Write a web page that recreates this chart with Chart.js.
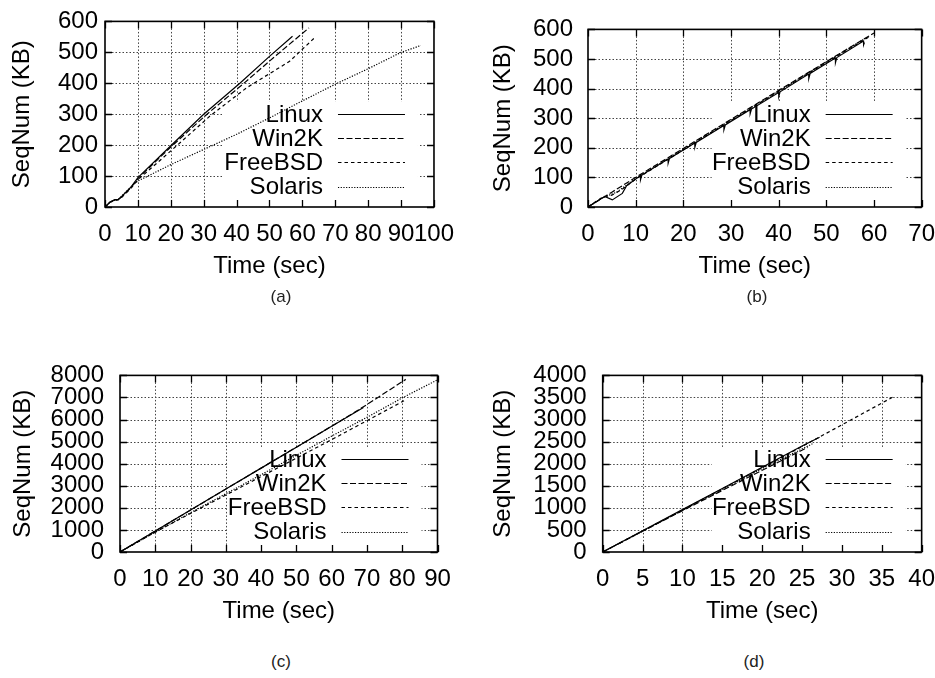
<!DOCTYPE html>
<html>
<head>
<meta charset="utf-8">
<script src="https://cdn.jsdelivr.net/npm/chart.js@4.4.1/dist/chart.umd.min.js"></script>
<style>
  body { margin: 0; background: #fff; width: 935px; height: 678px; overflow: hidden; position: relative; }
  canvas { position: absolute; }
  .cap { position: absolute; width: 60px; margin-left: -30px; text-align: center;
         font: 17px "Liberation Sans", Arial, sans-serif; color: #222; }
</style>
</head>
<body>
<canvas id="pa" width="467" height="290" style="left:0;top:0"></canvas>
<canvas id="pb" width="480" height="290" style="left:468px;top:0"></canvas>
<canvas id="pc" width="467" height="290" style="left:0;top:345px"></canvas>
<canvas id="pd" width="480" height="290" style="left:468px;top:345px"></canvas>
<div class="cap" style="left:281px;top:287px">(a)</div>
<div class="cap" style="left:757px;top:287px">(b)</div>
<div class="cap" style="left:281px;top:652px">(c)</div>
<div class="cap" style="left:754px;top:652px">(d)</div>
<script>
// series names, shared by all four panels
const osNames = ['Linux', 'Win2K', 'FreeBSD', 'Solaris'];

// (a) [time sec, seqnum KB]
const aLinux = [[0,0],[1.5,16],[3,24],[4,24],[5,33],[8,66],[10,95],[20,198],[30,300],[41,400],[50,487],[57,552]];
const aWin2K = [[0,0],[1.5,15],[3,23],[4,24],[5,32],[8,64],[10,92],[20,194],[31,300],[42,398],[52,490],[62,579]];
const aFreeBSD = [[0,0],[1.5,15],[3,22],[4,23],[5,30],[8,62],[10,88],[22,200],[32,295],[43,385],[50,431],[56,470],[64,550]];
const aSolaris = [[0,0],[1.5,15],[3,22],[4,24],[6,45],[8,66],[10,84],[20,137],[30,186],[40,235],[50,288],[60,343],[70,397],[80,447],[90,500],[96,522]];

// (b)
const bLinux = [[0,0],[3,30],[3.5,36],[5.1,24],[7.2,46],[8.1,72],[11,106],[11.02,92],[11.3,108],[16.8,162],[16.82,148],
  [17.1,164],[22.4,216],[22.42,202],[22.7,218],[28.5,275],[28.52,261],[28.8,277],[34,329],[34.02,315],[34.3,331],
  [40,387],[40.02,373],[40.3,389],[46.3,449],[46.32,434],[46.6,451],[51.9,503],[51.92,488],[52.2,505],[57.8,561],[57.82,548],[58,556]];
const bWin2K = [[0,0],[5,50],[10,100],[20,198],[30,296],[40,394],[50,491],[60,588]];
const bFreeBSD = [[0,0],[3,33],[5,40],[7,58],[10,94],[20,193],[30,292],[40,390],[50,488],[59,575]];
const bSolaris = [[0,0],[3,31],[6,50],[10,96],[20,195],[30,294],[40,392],[50,490],[58.5,573]];

// (c)
const cLinux = [[0,0],[10,950],[20,1900],[30,2850],[40,3800],[50,4750],[60,5700],[69,6550]];
const cWin2K = [[0,0],[10,950],[20,1900],[30,2850],[40,3800],[50,4750],[60,5700],[65,6180],[70,6680],[81,7820]];
const cFreeBSD = [[0,0],[10,900],[20,1750],[30,2580],[40,3420],[50,4250],[60,5090],[70,5950],[80.5,6850]];
const cSolaris = [[0,0],[10,900],[20,1780],[30,2640],[40,3500],[50,4380],[60,5250],[70,6100],[80,6980],[90,7800]];

// (d)
const dLinux = [[0,0],[5,480],[10,960],[15,1440],[20,1920],[25,2400],[27.2,2600]];
const dWin2K = [[0,0],[5,470],[10,935],[15,1395],[20,1850],[25.7,2370]];
const dFreeBSD = [[0,0],[5,475],[10,950],[15,1430],[20,1910],[25,2390],[30,2880],[36.6,3530]];
const dSolaris = [[0,0],[5,472],[10,945],[15,1415],[20,1890],[26.3,2450]];

// axis ranges / tick steps
const xMax = [100, 70, 90, 40];
const xStep = [10, 10, 10, 5];
const yMax = [600, 600, 8000, 4000];
const yStep = [100, 100, 1000, 500];

const dashes = [[], [6, 2.5], [3.5, 3], [1.2, 1.5]];
const tickFont = { family: '"Liberation Sans", Arial, sans-serif', size: 24 };
const textFont = { family: '"Liberation Sans", Arial, sans-serif', size: 24 };

// gnuplot look: dotted grid, key box, inward ticks on all four sides
const gnuplotFrame = {
  id: 'gnuplotFrame',
  beforeDatasetsDraw(chart) {
    const { ctx, chartArea: a, scales: { x, y } } = chart;
    ctx.save();
    ctx.strokeStyle = '#444';
    ctx.lineWidth = 1;
    ctx.setLineDash([1.5, 2]);
    ctx.beginPath();
    x.ticks.forEach(t => {
      const px = Math.round(x.getPixelForValue(t.value)) + 0.5;
      if (px > a.left + 2 && px < a.right - 2) { ctx.moveTo(px, a.top); ctx.lineTo(px, a.bottom); }
    });
    y.ticks.forEach(t => {
      const py = Math.round(y.getPixelForValue(t.value)) + 0.5;
      if (py > a.top + 2 && py < a.bottom - 2) { ctx.moveTo(a.left, py); ctx.lineTo(a.right, py); }
    });
    ctx.stroke();
    // key background hides the grid
    ctx.fillStyle = '#fff';
    ctx.fillRect(a.right - 210, a.bottom - 105, 194, 105);
    ctx.restore();
  },
  afterDatasetsDraw(chart) {
    const { ctx, chartArea: a, scales: { x, y } } = chart;
    ctx.save();
    ctx.strokeStyle = '#000';
    ctx.lineWidth = 1.3;
    ctx.beginPath();
    x.ticks.forEach(t => {
      const px = Math.round(x.getPixelForValue(t.value)) + 0.5;
      ctx.moveTo(px, a.bottom); ctx.lineTo(px, a.bottom - 7);
      ctx.moveTo(px, a.top); ctx.lineTo(px, a.top + 7);
    });
    y.ticks.forEach(t => {
      const py = Math.round(y.getPixelForValue(t.value)) + 0.5;
      ctx.moveTo(a.left, py); ctx.lineTo(a.left + 7, py);
      ctx.moveTo(a.right, py); ctx.lineTo(a.right - 7, py);
    });
    ctx.stroke();
    ctx.lineWidth = 1.6;
    ctx.strokeRect(a.left, a.top, a.right - a.left, a.bottom - a.top);

    // key
    ctx.font = textFont.size + 'px ' + textFont.family;
    ctx.fillStyle = '#000';
    ctx.textAlign = 'right';
    ctx.textBaseline = 'middle';
    const n = chart.data.datasets.length;
    chart.data.datasets.forEach((ds, i) => {
      const ry = a.bottom - 20.5 - (n - 1 - i) * 24.2;
      ctx.fillText(ds.label, a.right - 111, ry + 1);
      ctx.lineWidth = 1.2;
      ctx.setLineDash(ds.borderDash);
      ctx.beginPath();
      ctx.moveTo(a.right - 96, Math.round(ry) + 0.5);
      ctx.lineTo(a.right - 29, Math.round(ry) + 0.5);
      ctx.stroke();
    });
    ctx.restore();
  }
};

function makePanel(id, k, series, yAxisWidth, padRight, yTickPad, yTitlePad) {
  new Chart(document.getElementById(id), {
    type: 'line',
    data: {
      datasets: series.map((s, i) => ({
        label: osNames[i],
        data: s.map(p => ({ x: p[0], y: p[1] })),
        borderColor: '#000',
        borderWidth: 1.2,
        borderDash: dashes[i],
        pointRadius: 0,
        tension: 0,
        fill: false
      }))
    },
    options: {
      responsive: false,
      animation: false,
      layout: { padding: { left: 0, top: 14, right: padRight, bottom: 8 } },
      plugins: { legend: { display: false }, tooltip: { enabled: false } },
      scales: {
        x: {
          type: 'linear', min: 0, max: xMax[k],
          grid: { display: false, drawTicks: false },
          border: { display: false },
          ticks: { stepSize: xStep[k], autoSkip: false, maxRotation: 0, padding: 13, color: '#000', font: tickFont,
                   callback: v => String(v) },
          title: { display: true, text: 'Time (sec)', color: '#000', font: textFont, padding: { top: 0, bottom: 1 } },
          afterFit(s) { s.height = 75; }
        },
        y: {
          type: 'linear', min: 0, max: yMax[k],
          grid: { display: false, drawTicks: false },
          border: { display: false },
          ticks: { stepSize: yStep[k], autoSkip: false, padding: yTickPad, color: '#000', font: tickFont,
                   callback: v => String(v) },
          title: { display: true, text: 'SeqNum (KB)', color: '#000', font: textFont, padding: { top: yTitlePad, bottom: 0 } },
          afterFit(s) { s.width = yAxisWidth; }
        }
      }
    },
    plugins: [gnuplotFrame]
  });
}

makePanel('pa', 0, [aLinux, aWin2K, aFreeBSD, aSolaris], 105, 28, 7, 8);
makePanel('pb', 1, [bLinux, bWin2K, bFreeBSD, bSolaris], 120, 26, 15, 20.5);
makePanel('pc', 2, [cLinux, cWin2K, cFreeBSD, cSolaris], 120, 29.5, 16, 8.5);
makePanel('pd', 3, [dLinux, dWin2K, dFreeBSD, dSolaris], 134.7, 25.7, 16, 21);
</script>
</body>
</html>
